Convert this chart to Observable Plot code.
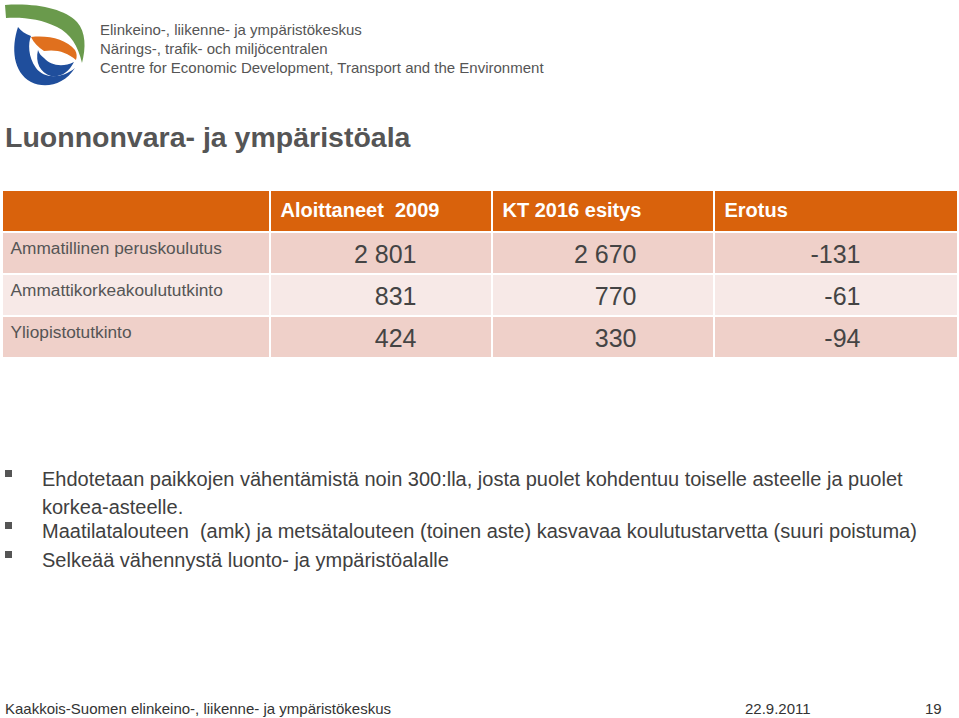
<!DOCTYPE html>
<html>
<head>
<meta charset="utf-8">
<script src="https://cdn.jsdelivr.net/npm/d3@7"></script>
<script src="https://cdn.jsdelivr.net/npm/@observablehq/plot@0.6"></script>
<style>
  html, body { margin: 0; padding: 0; background: #fff; }
  #slide { position: relative; width: 959px; height: 718px; overflow: hidden; font-family: "Liberation Sans", Arial, sans-serif; background: #fff; }
  .abs { position: absolute; white-space: nowrap; }
  .org { left: 100px; font-size: 15px; color: #555; line-height: 19px; }
  #title { left: 5px; top: 120px; font-size: 28.5px; font-weight: bold; color: #555; line-height: 34px; }
  #table { position: absolute; left: 0; top: 180px; }
  .bullet { position: absolute; left: 42px; font-size: 20px; color: #404040; line-height: 28px; }
  .sq { position: absolute; left: 5px; width: 7px; height: 7px; background: #555; }
  .foot { position: absolute; top: 700px; font-size: 15px; color: #333; line-height: 18px; white-space: nowrap; }
</style>
</head>
<body>
<div id="slide">
  <svg class="abs" style="left:0;top:0" width="95" height="95" viewBox="0 0 95 95">
    <path d="M5,5 C38,3 64,9 77,22 C86,32 86,48 82,63 C78,46 71,34 57,27 C41,19 23,17 6,18 Z" fill="#6a9a4c"/>
    <path d="M18,27 C11,48 13,72 31,82 C45,89 64,85 75,68 C62,79 44,79 36,68 C28,57 28,43 31,36 C25,34 21,31 18,27 Z" fill="#1f4e9c"/>
    <path d="M38,50 C35,62 40,73 51,76 C60,78 69,72 74,62 C62,68 50,65 44,58 C41,56 39,53 38,50 Z" fill="#1f4e9c"/>
    <path d="M31,37 C48,35 66,39 75,50 C77,53 77,57 76,60 C67,52 56,49 44,51 C38,47 34,43 31,37 Z" fill="#e0701e"/>
  </svg>
  <div class="abs org" style="top:20px">Elinkeino-, liikenne- ja ympäristökeskus</div>
  <div class="abs org" style="top:39px">Närings-, trafik- och miljöcentralen</div>
  <div class="abs org" style="top:58px">Centre for Economic Development, Transport and the Environment</div>

  <div class="abs" id="title">Luonnonvara- ja ympäristöala</div>

  <div id="table"></div>

  <div class="sq" style="top:470px"></div>
  <div class="bullet" style="top:465px">Ehdotetaan paikkojen vähentämistä noin 300:lla, josta puolet kohdentuu toiselle asteelle ja puolet<br>korkea-asteelle.</div>
  <div class="sq" style="top:522px"></div>
  <div class="bullet" style="top:517px; white-space:pre">Maatilatalouteen  (amk) ja metsätalouteen (toinen aste) kasvavaa koulutustarvetta (suuri poistuma)</div>
  <div class="sq" style="top:551px"></div>
  <div class="bullet" style="top:546px">Selkeää vähennystä luonto- ja ympäristöalalle</div>

  <div class="foot" style="left:5px">Kaakkois-Suomen elinkeino-, liikenne- ja ympäristökeskus</div>
  <div class="foot" style="left:745px">22.9.2011</div>
  <div class="foot" style="left:925px">19</div>
</div>
<script>
// ---- Data ----
const columnHeaders = ["Aloittaneet\u00a0 2009", "KT 2016 esitys", "Erotus"];
const rowLabels = ["Ammatillinen peruskoulutus", "Ammattikorkeakoulututkinto", "Yliopistotutkinto"];
const aloittaneet2009 = [2801, 831, 424];
const kt2016Esitys = [2670, 770, 330];
const erotus = [-131, -61, -94];

// ---- Formatting ----
const fmt = d3.formatLocale({decimal: ",", thousands: " ", grouping: [3], currency: ["", ""], minus: "-"}).format(",d");

const HEAD = "__head__";
const rowKeys = [HEAD, ...rowLabels];
const headerOrange = "#d9620c";
const rowFills = ["#efd0c9", "#f7e9e7", "#efd0c9"];

const cells = [];
rowKeys.forEach((r, ri) => {
  for (let c = 0; c < 4; c++) {
    cells.push({row: r, col: c, fill: ri === 0 ? headerOrange : rowFills[ri - 1]});
  }
});

const headerCells = columnHeaders.map((h, i) => ({row: HEAD, col: i + 1, label: h}));
const series = [aloittaneet2009, kt2016Esitys, erotus];
const valueMark = (values, colIndex, dx) =>
  Plot.text(rowLabels.map((r, i) => ({row: r, v: values[i]})), {
    x: () => colIndex + 1, y: "row", text: d => fmt(d.v),
    textAnchor: "end", dx, fontSize: 25, fill: "#444", dy: 1
  });

const chart = Plot.plot({
  width: 959,
  height: 182,
  x: {type: "linear", domain: [0, 1, 2, 3, 4], range: [2, 270, 492, 714, 958], axis: null},
  y: {type: "band", domain: rowKeys, range: [10, 178], paddingInner: 0.05, paddingOuter: 0, axis: null},
  color: {type: "identity"},
  style: {fontFamily: "'Liberation Sans', Arial, sans-serif", background: "transparent"},
  marks: [
    Plot.barX(cells, {x1: "col", x2: d => d.col + 1, y: "row", fill: "fill", insetLeft: 1, insetRight: 1}),
    Plot.text(headerCells, {x: "col", y: "row", text: "label", textAnchor: "start", dx: 10, dy: -1, fill: "white", fontWeight: "bold", fontSize: 20}),
    Plot.text(rowLabels, {x: () => 0, y: d => d, text: d => d, textAnchor: "start", dx: 8, dy: -5, fill: "#555", fontSize: 17.3}),
    valueMark(series[0], 1, -76),
    valueMark(series[1], 2, -78),
    valueMark(series[2], 3, -98)
  ]
});
document.getElementById("table").appendChild(chart);
</script>
</body>
</html>
